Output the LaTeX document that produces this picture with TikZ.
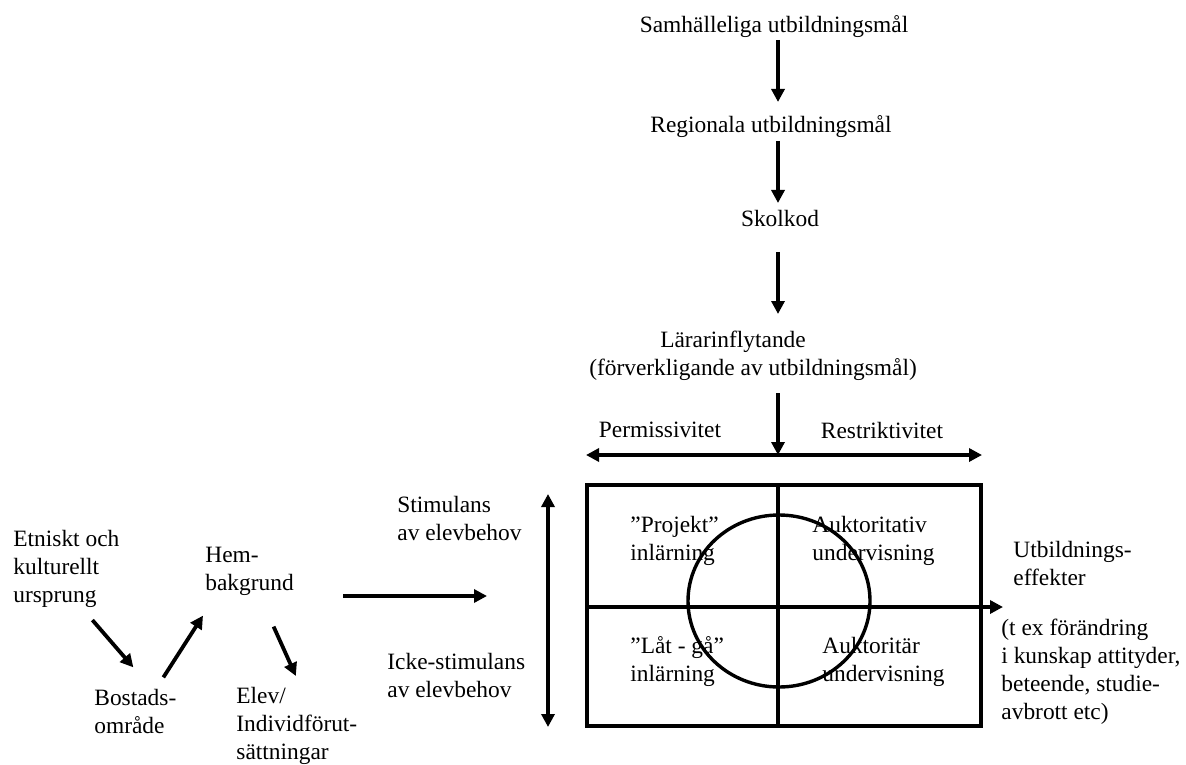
\documentclass[tikz,border=0pt]{standalone}
\usepackage{fontspec}
\setmainfont{Liberation Serif}
\usetikzlibrary{positioning,calc,arrows.meta}

\begin{document}
\begin{tikzpicture}[
  x=0.5pt, y=-0.5pt,
  txt/.style={inner sep=0pt, font=\fontsize{11.7}{14}\selectfont},
  lft/.style={txt, anchor=west, align=left},
  arr/.style={-{Triangle[length=6.5pt,width=6.5pt]}, line width=1.9pt},
  darr/.style={{Triangle[length=6.5pt,width=6.5pt]}-{Triangle[length=6.5pt,width=6.5pt]}, line width=1.9pt},
  frame/.style={line width=1.7pt}
]
\useasboundingbox (0,0) rectangle (1186,764);

% goal chain
\node[txt] (samh) at (774,27)  {Samhälleliga utbildningsmål};
\node[txt] (reg)  at (771,127) {Regionala utbildningsmål};
\node[txt] (skol) at (780,218) {Skolkod};
\node[txt] (lar)  at (733,342) {Lärarinflytande};
\node[txt] (forv) at (753,370) {(förverkligande av utbildningsmål)};

\coordinate (pm) at (778,455);
\coordinate (pl) at (586,455);
\coordinate (pr) at (982,455);

\draw[arr, shorten <=6.5pt, shorten >=12.5pt] (samh.center -| pm) -- (reg.center -| pm);
\draw[arr, shorten <=7pt, shorten >=7.5pt] (reg.center -| pm) -- (skol.center -| pm);
\draw[arr, shorten <=17pt, shorten >=14pt] (skol.center -| pm) -- (lar.center -| pm);
\draw[arr, shorten <=11.5pt] (forv.center -| pm) -- (pm);

% permissive / restrictive axis
\node[txt] (perm)  at (660,430) {Permissivitet};
\node[txt] (restr) at (882,430) {Restriktivitet};
\draw[darr] (pl) -- (pr);

% four-field grid
\coordinate (bnw) at (587,485);
\coordinate (bse) at (981,726);
\coordinate (bmid) at (587,607);
\coordinate (effx) at (1003,607);
\draw[frame] (bnw) rectangle (bse);
\draw[frame] (pm |- bnw) -- (pm |- bse);
\draw[arr] (bmid) -- (effx);

\node[lft] (proj) at (630,541) {”Projekt”\\inlärning};
\node[lft] (aukv) at (812,541) {Auktoritativ\\undervisning};
\node[lft] (latg) at (630,662) {”Låt - gå”\\inlärning};
\node[lft] (auka) at (822,662) {Auktoritär\\undervisning};

\draw[frame] (779,601) ellipse [x radius=45.5pt, y radius=43pt];

% stimulation axis
\coordinate (vt) at (548,494);
\coordinate (vb) at (548,727);
\draw[darr] (vt) -- (vb);
\node[lft] (stim) at (397,518) {Stimulans\\av elevbehov};
\node[lft] (icke) at (387,675) {Icke-stimulans\\av elevbehov};

% effects
\node[lft] (utb) at (1013,563) {Utbildnings-\\effekter};
\node[lft] (tex) at (1001,672) {(t ex förändring\\i kunskap attityder,\\beteende, studie-\\avbrott etc)};

% background factors
\node[lft] (etn)  at (13,569)  {Etniskt och\\kulturellt\\ursprung};
\node[lft] (hem)  at (205,571) {Hem-\\bakgrund};
\node[lft] (bost) at (94,711)  {Bostads-\\område};
\node[lft] (elev) at (236,726) {Elev/\\Individförut-\\sättningar};

\coordinate (ha) at (343,596);
\coordinate (hb) at (487,596);
\draw[arr] (ha) -- (hb);

\draw[arr] ($(etn.south)+(26,12)$) -- ($(bost.north)+(-2,-21)$);
\draw[arr] ($(bost.north)+(28,-11)$) -- ($(hem.south west)+(-2,20)$);
\draw[arr] ($(hem.south)+(24,31)$) -- ($(elev.north)+(-1,-11)$);

\end{tikzpicture}
\end{document}
